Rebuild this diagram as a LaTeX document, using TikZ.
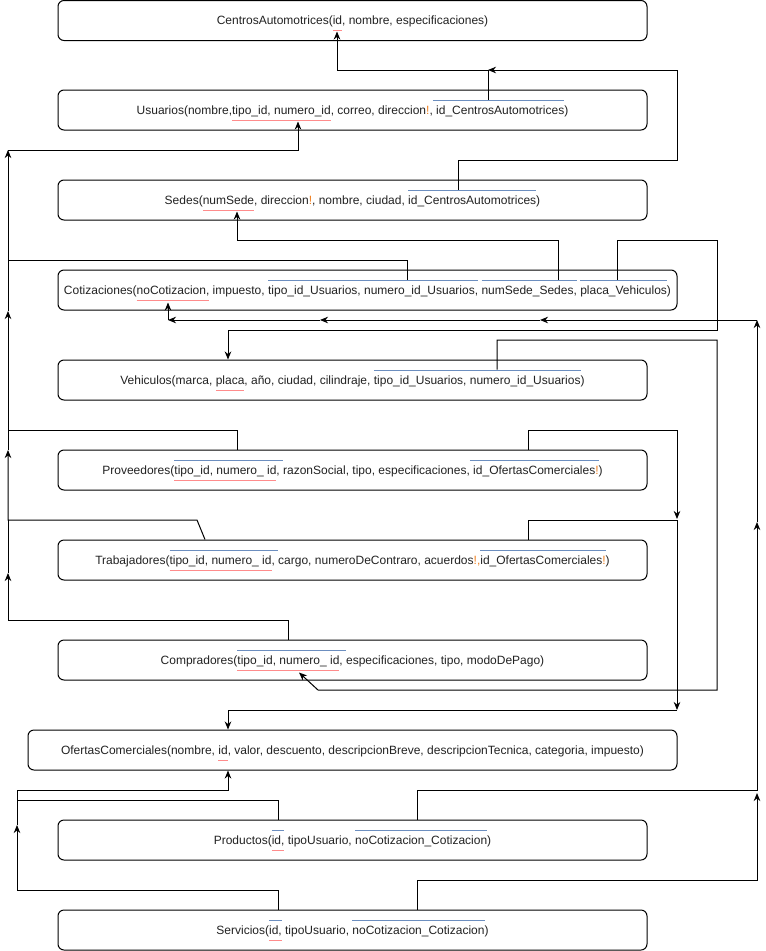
\documentclass[tikz,border=0pt]{standalone}
\usepackage{fontspec}
\setmainfont{Liberation Sans}
\usetikzlibrary{arrows.meta,calc}
\definecolor{pkc}{HTML}{FF8C8C}
\definecolor{fkc}{HTML}{6C8EBF}
\definecolor{exc}{HTML}{F08020}
\definecolor{txt}{HTML}{222222}
\newcommand\pkt[1]{\setbox0=\hbox{#1}\rlap{\color{pkc}\rule[-6.5pt]{\wd0}{1pt}}\box0\relax}
\newcommand\fkt[1]{\setbox0=\hbox{#1}\rlap{\color{fkc}\rule[13.5pt]{\wd0}{1pt}}\box0\relax}
\newcommand\ex{\textcolor{exc}{!}}
\tikzset{
  tbl/.style={draw=black, line width=1pt, rounded corners=6pt, fill=white,
    minimum height=40pt, minimum width=589pt, inner sep=0pt,
    text height=9pt, text depth=1pt, text=txt,
    font=\fontsize{12pt}{14pt}\selectfont},
  ln/.style={line width=1pt, draw=black},
  arr/.style={ln, -{Stealth[length=8pt,width=6.5pt,inset=2.5pt]}}
}
\begin{document}
\begin{tikzpicture}[x=1pt,y=-1pt]
\fill[white] (0,0) rectangle (766,951);
\useasboundingbox (0,0) rectangle (766,951);

\node[tbl] (cen) at (352.5,20.5) {CentrosAutomotrices(\pkt{id}, nombre, especificaciones)};
\node[tbl] (usu) at (352.5,110) {Usuarios(nombre,\pkt{tipo\_id, numero\_id}, correo, direccion\ex,\fkt{ id\_CentrosAutomotrices})};
\node[tbl] (sed) at (352.5,200) {Sedes(\pkt{numSede}, direccion\ex, nombre, ciudad, \fkt{id\_CentrosAutomotrices})};
\node[tbl, minimum width=619pt] (cot) at (367.5,290) {Cotizaciones(\pkt{noCotizacion,} impuesto, \fkt{tipo\_id\_Usuarios, numero\_id\_Usuarios,} \fkt{numSede\_Sedes,} \fkt{placa\_Vehiculos})};
\node[tbl] (veh) at (352.5,380) {Vehiculos(marca, \pkt{placa}, año, ciudad, cilindraje, \fkt{tipo\_id\_Usuarios, numero\_id\_Usuarios})};
\node[tbl] (prv) at (352.5,470) {Proveedores(\fkt{\pkt{tipo\_id, numero\_ id}, }razonSocial, tipo, especificaciones,\fkt{ id\_OfertasComerciales\ex})};
\node[tbl] (tra) at (352.5,560) {Trabajadores(\fkt{\pkt{tipo\_id, numero\_ id}, }cargo, numeroDeContraro, acuerdos\textcolor{exc}{!,}\fkt{id\_OfertasComerciales\ex})};
\node[tbl] (com) at (352.5,660) {Compradores(\fkt{\pkt{tipo\_id, numero\_ id}, }especificaciones, tipo, modoDePago)};
\node[tbl, minimum width=649pt] (ofe) at (352.5,750) {OfertasComerciales(nombre, \pkt{id}, valor, descuento, descripcionBreve, descripcionTecnica, categoria, impuesto)};
\node[tbl] (pro) at (352.5,840) {Productos(\fkt{\pkt{id,}} tipoUsuario, \fkt{noCotizacion\_Cotizacion})};
\node[tbl] (ser) at (352.5,930) {Servicios(\fkt{\pkt{id,}} tipoUsuario, \fkt{noCotizacion\_Cotizacion})};

% junction points
\coordinate (jUC) at (488,70);
\coordinate (jL150) at (8,150);
\coordinate (jL311) at (8,311);
\coordinate (jL450) at (8,450);
\coordinate (jL573) at (8,573);
\coordinate (jL825) at (17,825);
\coordinate (jR793) at (757,793);
\coordinate (jR522) at (757,522);
\coordinate (jR320) at (757,320);
\coordinate (jH540) at (540,320);
\coordinate (jH320) at (320,320);
\coordinate (jH168) at (168,320);
\coordinate (jR519) at (677,519);
\coordinate (jR710) at (677,710);

% Usuarios -> CentrosAutomotrices
\draw[arr] ($(usu.north -| 488,0)+(0,10)$) -- (jUC) -| ($(cen.south -| 337,0)+(0,-9.5)$);
% Sedes -> CentrosAutomotrices
\draw[arr] ($(sed.north -| 458,0)+(0,10)$) -- (458,160) -| (677,70) -- (jUC);
% Cotizaciones -> Usuarios
\draw[arr] ($(cot.north -| 407,0)+(0,10)$) -- (407,260) -| (jL150);
\draw[arr] (jL150) -| ($(usu.south -| 298,0)+(0,-9)$);
% Cotizaciones -> Sedes
\draw[arr] ($(cot.north -| 558,0)+(0,10)$) -- (558,240) -| ($(sed.south -| 237,0)+(0,-9)$);
% Cotizaciones -> Vehiculos
\draw[arr] ($(cot.north -| 617,0)+(0,10)$) -- (617,240) -| (717,330) -| (veh.north -| 228,0);
% Vehiculos -> Compradores
\draw[arr] ($(veh.north -| 497,0)+(0,10)$) -- (497,340) -| (717,690) -- (318,690) -- ($(com.south -| 299,0)+(0,-8)$);
% right column to Cotizaciones
\draw[arr] (ser.north -| 417,0) -- (417,880) -| (jR793);
\draw[arr] (pro.north -| 417,0) -- (417,790) -| (jR522);
\draw[arr] (jR522) -- (jR320);
\draw[arr] (jR320) -- (jH540);
\draw[arr] (jH540) -- (jH320);
\draw[arr] (jH320) -- (jH168);
\draw[arr] (jH168) -- ($(cot.south -| 168,0)+(0,-8)$);
% Proveedores / Trabajadores -> OfertasComerciales
\draw[arr] (prv.north -| 528,0) -- (528,430) -| (jR519);
\draw[arr] (tra.north -| 528,0) -- (528,520) -| (jR710);
\draw[arr] (jR710) -| (ofe.north -| 228,0);
% left trunk
\draw[arr] (prv.north -| 237,0) -- (237,430) -| (jL311);
\draw[arr] (tra.north -| 205,0) -- (197,520) -| (jL450);
\draw[arr] (com.north -| 288,0) -- (288,620) -| (jL573);
\draw[ln] (jL311) -- (8,260);
\draw[ln] (jL450) -- (8,430);
\draw[ln] (jL573) -- (8,520);
% Productos / Servicios -> OfertasComerciales
\draw[arr] (ser.north -| 278,0) -- (278,890) -| (jL825);
\draw[arr] (pro.north -| 278,0) -- (278,800) -| (17,790) -| (ofe.south -| 228,0);
\draw[ln] (jL825) -- (17,800);
\end{tikzpicture}
\end{document}
